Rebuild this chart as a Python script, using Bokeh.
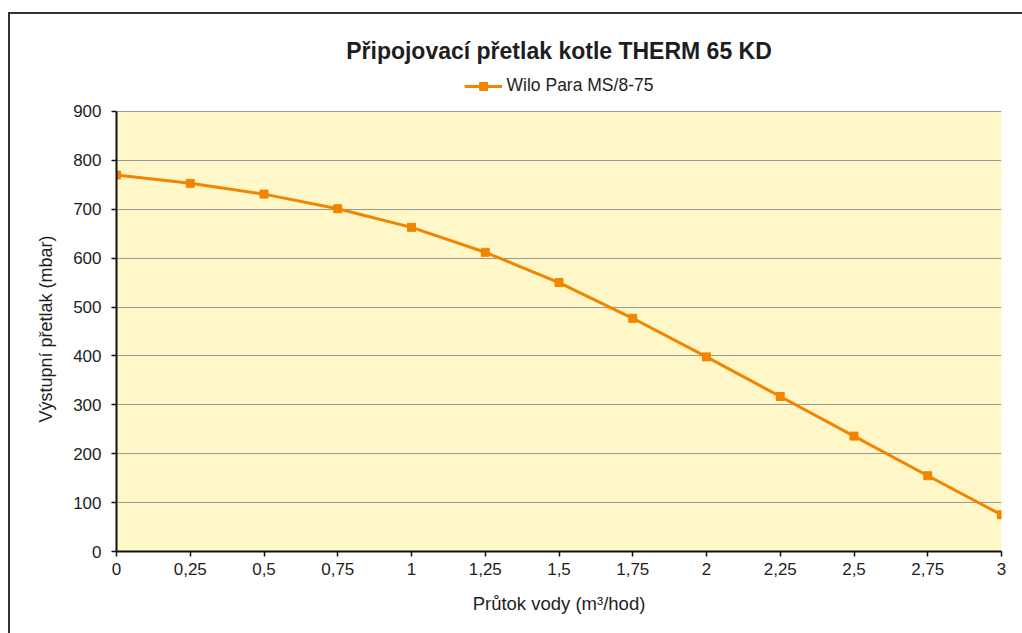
from bokeh.plotting import figure
from bokeh.models import Range1d, FixedTicker, Legend, LegendItem, BoxAnnotation, Title
from bokeh.embed import file_html
from bokeh.resources import INLINE

# ---- data ----
flow = [0, 0.25, 0.5, 0.75, 1, 1.25, 1.5, 1.75, 2, 2.25, 2.5, 2.75, 3]
pressure = [770, 753, 731, 701, 663, 612, 550, 477, 398, 317, 236, 155, 75]
x_ticks = [0, 0.25, 0.5, 0.75, 1, 1.25, 1.5, 1.75, 2, 2.25, 2.5, 2.75, 3]
x_tick_labels = ["0", "0,25", "0,5", "0,75", "1", "1,25", "1,5", "1,75", "2", "2,25", "2,5", "2,75", "3"]
y_ticks = [0, 100, 200, 300, 400, 500, 600, 700, 800, 900]
y_min, y_max = 0, 900
x_min, x_max = 0, 3
series_name = "Wilo Para MS/8-75"
title_text = "Připojovací přetlak kotle THERM 65 KD"
x_label = "Průtok vody (m³/hod)"
y_label = "Výstupní přetlak (mbar)"

FONT = "Liberation Sans"
TXT = "#1e1e1e"
ORANGE = "#F28500"

# frame extends above the 900 line to hold the legend (yellow area only 0..900)
p = figure(width=1022, height=633, output_backend="svg", toolbar_location=None,
           x_range=Range1d(x_min, x_max), y_range=Range1d(y_min, 992),
           min_border_left=116, min_border_right=21, min_border_top=66, min_border_bottom=82)

# outer chart border (left and top edges visible), drawn as the page background
p.styles = {"background": "linear-gradient(#333333,#333333) 8px 12px / 2px 3000px no-repeat, "
                          "linear-gradient(#333333,#333333) 8px 12px / 3000px 2px no-repeat, white"}
p.background_fill_alpha = 0
p.border_fill_alpha = 0
p.outline_line_color = None

plot_area = BoxAnnotation(left=x_min, right=x_max, bottom=y_min, top=y_max,
                          fill_color="#FFF7C8", fill_alpha=1, line_color=None, level="image",
                          editable=False)
p.add_layout(plot_area)

p.title.text = title_text
p.title.align = "center"
p.title.text_font = FONT
p.title.text_font_size = "23px"
p.title.text_font_style = "bold"
p.title.text_color = TXT
p.title.standoff = 5

p.xgrid.grid_line_color = None
p.ygrid.grid_line_color = "#999999"
p.ygrid.grid_line_width = 1

for ax in (p.xaxis[0], p.yaxis[0]):
    ax.axis_line_color = "#111111"
    ax.axis_line_width = 2
    ax.major_tick_line_color = "#111111"
    ax.major_tick_line_width = 1.5
    ax.major_tick_out = 5
    ax.major_tick_in = 0
    ax.minor_tick_line_color = None
    ax.major_label_text_font = FONT
    ax.major_label_text_font_size = "17px"
    ax.major_label_text_color = TXT
    ax.axis_label_text_font = FONT
    ax.axis_label_text_font_size = "18.5px"
    ax.axis_label_text_font_style = "normal"
    ax.axis_label_text_color = TXT

p.xaxis.ticker = FixedTicker(ticks=x_ticks)
p.xaxis.major_label_overrides = {t: l for t, l in zip(x_ticks, x_tick_labels)}
p.yaxis.ticker = FixedTicker(ticks=y_ticks)
p.ygrid.ticker = FixedTicker(ticks=y_ticks)
p.yaxis.bounds = (y_min, y_max)
p.xaxis.axis_label = x_label
p.xaxis.major_label_standoff = 6
p.yaxis.major_label_standoff = 10
p.xaxis.axis_label_standoff = 15

# y-axis title placed along the 0..900 area (the frame also holds the legend above it)
ytitle = Title(text=y_label, align="left", offset=129, standoff=29,
               text_font=FONT, text_font_size="18px", text_font_style="normal", text_color=TXT)
p.add_layout(ytitle, "left")

ln = p.line(flow, pressure, line_color=ORANGE, line_width=3)
sc = p.scatter(flow, pressure, marker="square", size=8, fill_color=ORANGE, line_color=ORANGE)

legend = Legend(items=[LegendItem(label=series_name, renderers=[ln, sc])],
                location="top_center", orientation="horizontal", padding=0, margin=9, spacing=0,
                glyph_width=38, glyph_height=20, label_height=20,
                label_text_font=FONT, label_text_font_size="17.5px", label_text_color=TXT,
                background_fill_alpha=0, border_line_color=None, label_standoff=5)
p.add_layout(legend, "center")

open("out.html", "w").write(file_html(p, INLINE))
